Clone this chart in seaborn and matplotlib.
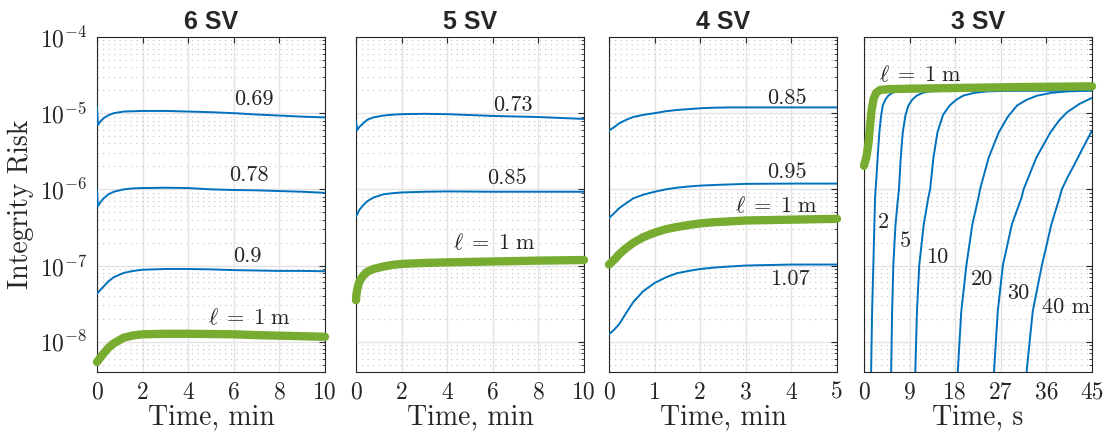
import numpy as np
import pandas as pd
import matplotlib
matplotlib.use("Agg")
import matplotlib.pyplot as plt
import matplotlib.ticker as mticker
import seaborn as sns

sns.set_theme(style="white")
plt.rcParams['font.family'] = ['cmr10', 'DejaVu Serif']
plt.rcParams['mathtext.fontset'] = 'cm'
plt.rcParams['axes.formatter.use_mathtext'] = True
plt.rcParams['axes.unicode_minus'] = True

BLUE = '#0072BD'
GREEN = '#77AC30'

# ---------------- data ----------------
titles = ['6 SV', '5 SV', '4 SV', '3 SV']
xlabels = [r'Time, min', r'Time, min', r'Time, min', r'Time, s']
xticks = [[0, 2, 4, 6, 8, 10], [0, 2, 4, 6, 8, 10], [0, 1, 2, 3, 4, 5],
          [0, 9, 18, 27, 36, 45]]

# 6 SV (time in min)
t6 = [0, 0.04, 0.15, 0.29, 0.5, 0.73, 1.17, 1.6, 2, 3, 4, 5, 6, 7, 8, 9, 10]
ir6_069 = [1.2e-5, 7.0e-6, 7.8e-6, 8.6e-6, 9.4e-6, 1.0e-5, 1.05e-5, 1.06e-5, 1.07e-5, 1.07e-5,
           1.05e-5, 1.03e-5, 1.0e-5, 9.6e-6, 9.3e-6, 9.0e-6, 8.8e-6]
ir6_078 = [1.0e-6, 6.0e-7, 6.8e-7, 7.6e-7, 8.6e-7, 9.3e-7, 1.0e-6, 1.03e-6, 1.04e-6, 1.05e-6,
           1.04e-6, 1.0e-6, 9.8e-7, 9.7e-7, 9.5e-7, 9.3e-7, 9.0e-7]
ir6_090 = [4.2e-8, 4.4e-8, 4.8e-8, 5.3e-8, 6.2e-8, 7.0e-8, 8.0e-8, 8.5e-8, 8.8e-8, 9.0e-8,
           9.0e-8, 8.9e-8, 8.7e-8, 8.6e-8, 8.5e-8, 8.5e-8, 8.4e-8]
ir6_l1 = [5.4e-9, 5.6e-9, 6.2e-9, 7.0e-9, 8.3e-9, 9.5e-9, 1.13e-8, 1.21e-8, 1.25e-8, 1.27e-8,
          1.27e-8, 1.26e-8, 1.25e-8, 1.22e-8, 1.2e-8, 1.18e-8, 1.16e-8]

# 5 SV (time in min)
t5 = [0, 0.05, 0.15, 0.32, 0.5, 0.76, 1.2, 1.6, 2, 3, 4, 6, 8, 10]
ir5_073 = [7.8e-6, 6.0e-6, 6.6e-6, 7.4e-6, 8.2e-6, 8.8e-6, 9.3e-6, 9.55e-6, 9.7e-6, 9.8e-6,
           9.7e-6, 9.2e-6, 8.9e-6, 8.4e-6]
ir5_085 = [4.4e-7, 4.7e-7, 5.4e-7, 6.2e-7, 7.0e-7, 7.8e-7, 8.6e-7, 8.9e-7, 9.1e-7, 9.3e-7,
           9.4e-7, 9.3e-7, 9.3e-7, 9.3e-7]
t5_l1 = [0, 0.02, 0.06, 0.12, 0.18, 0.32, 0.5, 0.76, 1.2, 1.6, 2, 3, 4, 6, 8, 10]
ir5_l1 = [3.5e-8, 4.2e-8, 4.9e-8, 5.8e-8, 6.4e-8, 7.4e-8, 8.3e-8, 9.0e-8, 9.7e-8, 1.02e-7,
          1.05e-7, 1.08e-7, 1.1e-7, 1.13e-7, 1.16e-7, 1.18e-7]

# 4 SV (time in min)
t4 = [0, 0.12, 0.23, 0.38, 0.53, 0.75, 1, 1.25, 1.48, 1.75, 2, 2.3, 2.65, 3, 4, 5]
ir4_085 = [5.9e-6, 6.6e-6, 7.4e-6, 8.2e-6, 8.9e-6, 9.5e-6, 1.0e-5, 1.06e-5, 1.1e-5, 1.13e-5,
           1.16e-5, 1.18e-5, 1.19e-5, 1.19e-5, 1.19e-5, 1.19e-5]
ir4_095 = [4.2e-7, 4.9e-7, 5.7e-7, 6.6e-7, 7.6e-7, 8.5e-7, 9.3e-7, 1.0e-6, 1.05e-6, 1.09e-6,
           1.12e-6, 1.14e-6, 1.16e-6, 1.18e-6, 1.19e-6, 1.19e-6]
ir4_l1 = [1.03e-7, 1.2e-7, 1.42e-7, 1.7e-7, 1.98e-7, 2.35e-7, 2.7e-7, 3.0e-7, 3.2e-7, 3.4e-7,
          3.57e-7, 3.7e-7, 3.8e-7, 3.9e-7, 4.0e-7, 4.1e-7]
ir4_107 = [1.25e-8, 1.45e-8, 1.72e-8, 2.4e-8, 3.3e-8, 4.6e-8, 5.9e-8, 7.0e-8, 7.9e-8, 8.5e-8,
           9.0e-8, 9.4e-8, 9.7e-8, 1.0e-7, 1.03e-7, 1.03e-7]

# 3 SV (time in s)
t3_l1 = [0, 0.5, 0.9, 1.2, 1.5, 1.9, 2.4, 3.2, 5, 10, 20, 30, 45]
ir3_l1 = [2.04e-6, 2.7e-6, 4.1e-6, 7.0e-6, 1.1e-5, 1.55e-5, 1.85e-5, 2.02e-5, 2.07e-5, 2.1e-5,
          2.15e-5, 2.2e-5, 2.25e-5]
t3_2 = [1.39, 1.6, 1.85, 2.18, 2.5, 2.75, 3.03, 3.35, 3.7, 4.2, 4.8, 5.6, 6.5, 8, 10, 45]
ir3_2 = [3.5e-9, 2.5e-8, 1.05e-7, 7.8e-7, 1.6e-6, 3.0e-6, 5.6e-6, 9.0e-6, 1.26e-5, 1.5e-5,
         1.7e-5, 1.85e-5, 1.93e-5, 1.96e-5, 1.98e-5, 2.0e-5]
t3_5 = [5.34, 5.55, 5.8, 6.2, 6.6, 6.9, 7.25, 7.65, 8.2, 8.77, 9.5, 10.4, 11.6, 13, 16, 20, 45]
ir3_5 = [3.5e-9, 2.5e-8, 1.05e-7, 3.3e-7, 6.5e-7, 1.0e-6, 2.6e-6, 5.6e-6, 9.5e-6, 1.26e-5,
         1.5e-5, 1.7e-5, 1.85e-5, 1.93e-5, 1.97e-5, 1.98e-5, 2.0e-5]
t3_10 = [10.1, 10.45, 10.9, 11.8, 12.7, 13.05, 13.7, 14.5, 15.6, 16.9, 18.2, 19.6, 21.8, 24.3, 30, 45]
ir3_10 = [3.5e-9, 2.5e-8, 1.0e-7, 3.5e-7, 7.8e-7, 1.0e-6, 2.6e-6, 5.6e-6, 9.5e-6, 1.26e-5,
          1.5e-5, 1.7e-5, 1.85e-5, 1.93e-5, 1.98e-5, 2.0e-5]
t3_20 = [18.45, 19.2, 20.2, 21.4, 22.6, 22.9, 24.6, 26.6, 28.4, 30.2, 32.1, 34.2, 37, 40.1, 45]
ir3_20 = [3.5e-9, 2.5e-8, 1.0e-7, 3.5e-7, 7.8e-7, 1.0e-6, 2.6e-6, 5.6e-6, 9.0e-6, 1.26e-5,
          1.5e-5, 1.7e-5, 1.85e-5, 1.93e-5, 1.98e-5]
t3_30 = [25.6, 26.4, 27.4, 29.2, 31.1, 31.5, 34.0, 36.8, 38.5, 40.1, 42.5, 45]
ir3_30 = [3.5e-9, 2.5e-8, 1.0e-7, 3.5e-7, 7.8e-7, 1.0e-6, 2.6e-6, 5.6e-6, 8.0e-6, 1.03e-5,
          1.32e-5, 1.59e-5]
t3_40 = [32.0, 33.3, 35.1, 37.0, 38.6, 39.05, 40.2, 41.4, 43.2, 45]
ir3_40 = [3.5e-9, 2.5e-8, 1.0e-7, 3.5e-7, 7.8e-7, 1.0e-6, 1.45e-6, 2.04e-6, 3.5e-6, 5.9e-6]

# curve labels: (text, x, y)
L1 = r'$\ell\;=\;1\ \mathrm{m}$'
labels6 = [('0.69', 6.9, 1.54e-5), ('0.78', 6.65, 1.54e-6), ('0.9', 6.6, 1.31e-7),
           (L1, 6.7, 2.05e-8)]
labels5 = [('0.73', 6.9, 1.26e-5), ('0.85', 6.6, 1.38e-6), (L1, 6.05, 1.96e-7)]
labels4 = [('0.85', 3.9, 1.56e-5), ('0.95', 3.9, 1.66e-6), (L1, 3.68, 6.0e-7),
           ('1.07', 3.97, 6.6e-8)]
labels3 = [(L1, 11.1, 3.2e-5), ('2', 3.8, 3.7e-7), ('5', 8.1, 2.1e-7),
           ('10', 14.4, 1.3e-7), ('20', 23.3, 6.7e-8), ('30', 30.5, 4.3e-8), ('40 m', 39.8, 2.85e-8)]

panels = [
    dict(xmax=10, blue=[(t6, ir6_069), (t6, ir6_078), (t6, ir6_090)], green=(t6, ir6_l1), labels=labels6),
    dict(xmax=10, blue=[(t5, ir5_073), (t5, ir5_085)], green=(t5_l1, ir5_l1), labels=labels5),
    dict(xmax=5, blue=[(t4, ir4_085), (t4, ir4_095), (t4, ir4_107)], green=(t4, ir4_l1), labels=labels4),
    dict(xmax=45, blue=[(t3_2, ir3_2), (t3_5, ir3_5), (t3_10, ir3_10), (t3_20, ir3_20),
                        (t3_30, ir3_30), (t3_40, ir3_40)], green=(t3_l1, ir3_l1), labels=labels3),
]

fig = plt.figure(figsize=(11.11, 4.38), dpi=100)
lefts = [97, 356, 609, 864]
W, H = 228 / 1111, 335 / 438
B = 1 - 372 / 438

for i, p in enumerate(panels):
    ax = fig.add_axes([lefts[i] / 1111, B, W, H])
    ax.set_yscale('log')
    ax.set_ylim(4e-9, 1e-4)
    ax.set_xlim(0, p['xmax'])
    for (tt, vv) in p['blue']:
        df = pd.DataFrame({'t': tt, 'v': vv})
        sns.lineplot(data=df, x='t', y='v', ax=ax, color=BLUE, lw=1.4, zorder=3)
    tg, vg = p['green']
    dfg = pd.DataFrame({'t': tg, 'v': vg})
    sns.lineplot(data=dfg, x='t', y='v', ax=ax, color=GREEN, lw=6, zorder=4,
                 solid_capstyle='round', solid_joinstyle='round', clip_on=False)
    for (txt, xx, yy) in p['labels']:
        ax.text(xx, yy, txt, ha='center', va='center', fontsize=16, zorder=5)
    ax.set_xticks(xticks[i])
    ax.set_xticklabels([str(v) for v in xticks[i]])
    ax.yaxis.set_major_locator(mticker.LogLocator(base=10, numticks=10))
    ax.yaxis.set_minor_locator(mticker.LogLocator(base=10, subs=np.arange(2, 10), numticks=20))
    ax.yaxis.set_minor_formatter(mticker.NullFormatter())
    ax.grid(True, which='major', axis='both', color='#e3e3e3', lw=1.0, ls='-', zorder=0)
    ax.grid(True, which='minor', axis='y', color='#c4c4c4', lw=0.8, ls=(0, (1, 4)), zorder=0)
    ax.set_axisbelow(True)
    ax.tick_params(which='both', direction='in', top=True, right=True, labelsize=17, colors='#262626')
    ax.tick_params(which='major', length=4, width=0.8, pad=7)
    ax.tick_params(which='minor', length=2.2, width=0.6)
    for s in ax.spines.values():
        s.set_color('#262626')
        s.set_linewidth(0.8)
    ax.set_xlabel(xlabels[i], fontsize=20, labelpad=0, color='#262626')
    if i == 0:
        ax.set_ylabel('Integrity Risk', fontsize=20, labelpad=4, color='#262626')
    else:
        ax.set_ylabel('')
        ax.set_yticklabels([])
    ax.set_title(titles[i], fontsize=18, fontweight='bold', family='Liberation Sans', pad=6)

fig.savefig('out.png', dpi=100)
